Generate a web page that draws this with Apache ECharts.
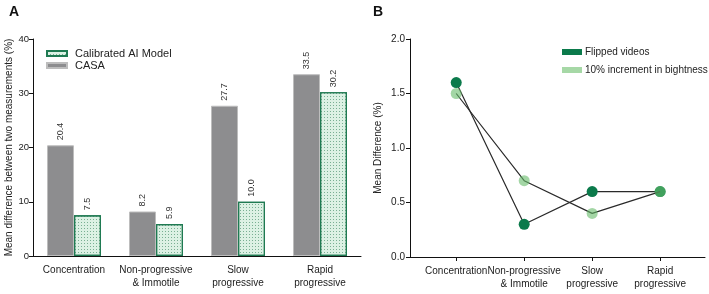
<!DOCTYPE html>
<html><head><meta charset="utf-8">
<script src="https://cdn.jsdelivr.net/npm/echarts@6/dist/echarts.min.js"></script>
<style>html,body{margin:0;padding:0;background:#fff}#c{width:709px;height:294px}</style>
</head><body><div id="c"></div>
<script>
const categoriesA = ['Concentration', 'Non-progressive\n& Immotile', 'Slow\nprogressive', 'Rapid\nprogressive'];
const casaValues = [20.4, 8.2, 27.7, 33.5];
const aiValues = [7.5, 5.9, 10.0, 30.2];
const yTicksA = [0, 10, 20, 30, 40];

const categoriesB = ['Concentration', 'Non-progressive\n& Immotile', 'Slow\nprogressive', 'Rapid\nprogressive'];
const flippedValues = [1.6, 0.3, 0.6, 0.6];
const brightnessValues = [1.5, 0.7, 0.4, 0.6];
const yTicksB = [0, 0.5, 1.0, 1.5, 2.0];

const FONT = 'Liberation Sans, Arial, sans-serif';
const chart = echarts.init(document.getElementById('c'), null, {renderer: 'canvas'});
const idx = categoriesB.map((_, i) => i);

chart.setOption({
  animation: false,
  textStyle: {fontFamily: FONT},
  title: [
    {text: 'A', left: 4, top: 0, textStyle: {fontSize: 14, fontWeight: 'bold', color: '#111', fontFamily: FONT}},
    {text: 'B', left: 368, top: 0, textStyle: {fontSize: 14, fontWeight: 'bold', color: '#111', fontFamily: FONT}}
  ],
  legend: [
    {
      orient: 'vertical', left: 46, top: 48, padding: 0, icon: 'rect', itemWidth: 20, itemHeight: 5, itemGap: 1,
      data: ['Calibrated AI Model', 'CASA'],
      textStyle: {fontSize: 11, color: '#222', padding: [0, 0, 0, 3], fontFamily: FONT}
    },
    {
      orient: 'vertical', left: 562, top: 47, padding: 0, icon: 'rect', itemWidth: 20, itemHeight: 6, itemGap: 8,
      data: ['Flipped videos', {name: '10% increment in bightness', itemStyle: {color: '#a6d8a6', opacity: 1}}],
      textStyle: {fontSize: 10, color: '#222', padding: [0, 0, 0, -2], fontFamily: FONT}
    }
  ],
  grid: [
    {left: 33, top: 39, bottom: 38, width: 328},
    {left: 410, top: 39, bottom: 37, right: 4}
  ],
  xAxis: [
    {
      gridIndex: 0, type: 'category', data: categoriesA,
      axisLine: {lineStyle: {color: '#111', width: 1}},
      axisTick: {alignWithLabel: true, length: 4, lineStyle: {color: '#111'}},
      axisLabel: {fontSize: 10, color: '#222', lineHeight: 13, margin: 8, interval: 0, fontFamily: FONT}
    },
    {
      gridIndex: 1, type: 'value', min: -0.68, max: 3.66,
      splitLine: {show: false},
      axisLine: {onZero: false, lineStyle: {color: '#111', width: 1}},
      axisTick: {length: 4, lineStyle: {color: '#111'}, customValues: idx},
      axisLabel: {fontSize: 10, color: '#222', lineHeight: 13, margin: 8, customValues: idx,
        formatter: v => categoriesB[Math.round(v)] || '', hideOverlap: false, fontFamily: FONT}
    }
  ],
  yAxis: [
    {
      gridIndex: 0, type: 'value', min: 0, max: 40, interval: 10,
      name: 'Mean difference between two measurements (%)', nameLocation: 'middle', nameGap: 18,
      nameTextStyle: {fontSize: 10, color: '#222', fontFamily: FONT},
      splitLine: {show: false},
      axisLine: {show: true, onZero: false, lineStyle: {color: '#111'}},
      axisTick: {show: true, length: 4, lineStyle: {color: '#111'}},
      axisLabel: {fontSize: 9.5, color: '#222', margin: 4, fontFamily: FONT,
        customValues: yTicksA}
    },
    {
      gridIndex: 1, type: 'value', min: 0, max: 2, interval: 0.5,
      name: 'Mean Difference (%)', nameLocation: 'middle', nameGap: 27,
      nameTextStyle: {fontSize: 10, color: '#222', fontFamily: FONT},
      splitLine: {show: false},
      axisLine: {show: true, onZero: false, lineStyle: {color: '#111'}},
      axisTick: {show: true, length: 4, lineStyle: {color: '#111'}},
      axisLabel: {fontSize: 10, color: '#222', margin: 5, fontFamily: FONT,
        customValues: yTicksB, formatter: v => v.toFixed(1)}
    }
  ],
  series: [
    {
      name: 'CASA', type: 'bar', xAxisIndex: 0, yAxisIndex: 0, data: casaValues,
      barWidth: 27, barGap: '0%',
      itemStyle: {color: '#8d8d8f', borderColor: '#bdbdbd', borderWidth: 1},
      label: {show: true, position: 'top', rotate: 90, align: 'left', verticalAlign: 'middle', distance: 5,
        fontSize: 9, color: '#333', formatter: p => p.value.toFixed(1), fontFamily: FONT}
    },
    {
      name: 'Calibrated AI Model', type: 'bar', xAxisIndex: 0, yAxisIndex: 0, data: aiValues,
      barWidth: 27, barGap: '0%',
      itemStyle: {color: '#dcf1e4', borderColor: '#1f7a52', borderWidth: 1.2,
        decal: {symbol: 'rect', symbolSize: 1, dashArrayX: [1, 2], dashArrayY: [1, 2], color: 'rgba(40,120,80,0.55)'}},
      label: {show: true, position: 'top', rotate: 90, align: 'left', verticalAlign: 'middle', distance: 5,
        fontSize: 9, color: '#333', formatter: p => p.value.toFixed(1), fontFamily: FONT}
    },
    {
      name: 'Flipped videos', type: 'line', xAxisIndex: 1, yAxisIndex: 1,
      data: flippedValues.map((v, i) => [i, v]),
      symbol: 'circle', symbolSize: 11, color: '#0b7a4b',
      itemStyle: {color: '#0b7a4b'},
      lineStyle: {color: '#2a2a2a', width: 1.2}, z: 2
    },
    {
      name: '10% increment in bightness', type: 'line', xAxisIndex: 1, yAxisIndex: 1,
      data: brightnessValues.map((v, i) => [i, v]),
      symbol: 'circle', symbolSize: 11, color: '#a6d8a6',
      itemStyle: {color: 'rgb(102,187,105)', opacity: 0.6},
      lineStyle: {color: '#2a2a2a', width: 1.2}, z: 3
    }
  ]
});
</script>
</body></html>
